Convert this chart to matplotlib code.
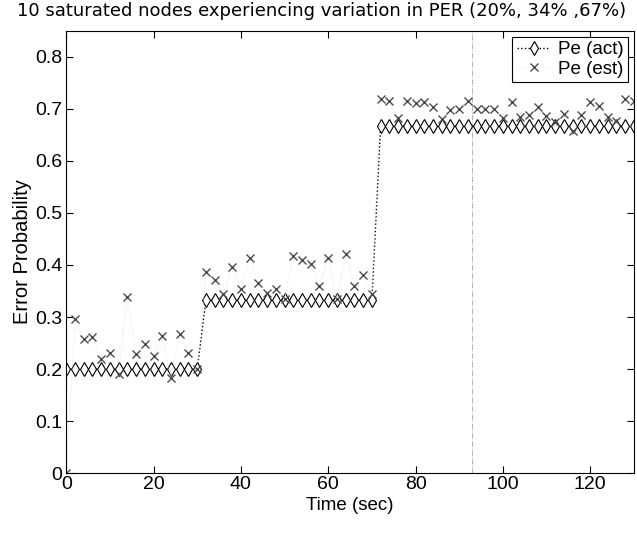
import matplotlib.pyplot as plt
import numpy as np

plt.rcParams['font.family'] = ['Liberation Sans', 'DejaVu Sans']

t = np.arange(0, 131, 2)

# actual error probability (step changes at 30 s and 70 s)
pe_act = [0.2] * 16 + [0.333] * 20 + [0.667] * 30

# estimated error probability
pe_est = [0.0, 0.297, 0.258, 0.262, 0.22, 0.23, 0.191, 0.338, 0.229, 0.248,
          0.225, 0.264, 0.183, 0.268, 0.23, 0.2,
          0.387, 0.371, 0.344, 0.396, 0.353, 0.414, 0.366, 0.347, 0.353, 0.334,
          0.417, 0.409, 0.401, 0.36, 0.413, 0.335, 0.421, 0.36, 0.381, 0.345,
          0.72, 0.715, 0.683, 0.716, 0.711, 0.713, 0.704, 0.68, 0.697, 0.70,
          0.716, 0.70, 0.70, 0.699, 0.683, 0.714, 0.684, 0.688, 0.703, 0.686,
          0.675, 0.69, 0.658, 0.689, 0.713, 0.705, 0.684, 0.677, 0.72, 0.716]

x_ticks = [0, 20, 40, 60, 80, 100, 120]
y_ticks = [0, 0.1, 0.2, 0.3, 0.4, 0.5, 0.6, 0.7, 0.8]

fig = plt.figure(figsize=(6.37, 5.52), dpi=100)
ax = fig.add_axes([0.104, 0.143, 0.891, 0.801])

ax.axvline(93, color='0.65', linestyle='-.', linewidth=0.6, zorder=0)

ax.plot(t, pe_act, linestyle=':', color='black', linewidth=1.0,
        marker='d', markersize=7, markerfacecolor='white',
        markeredgecolor='black', markeredgewidth=0.8, label='Pe (act)')
ax.plot(t, pe_est, linestyle=':', color='0.85', linewidth=0.5,
        marker='x', markersize=6, markeredgecolor='0.3',
        markeredgewidth=1.0, label='Pe (est)')

ax.set_xlim(0, 130)
ax.set_ylim(0, 0.85)
ax.set_xticks(x_ticks)
ax.set_yticks(y_ticks)
ax.set_xticklabels([str(v) for v in x_ticks])
ax.set_yticklabels(['0', '0.1', '0.2', '0.3', '0.4', '0.5', '0.6', '0.7', '0.8'])
ax.tick_params(direction='in', top=True, right=True, labelsize=14, length=5)
ax.tick_params(axis='x', pad=2)
ax.tick_params(axis='y', pad=3)

ax.set_xlabel('Time (sec)', fontsize=13.5, labelpad=3)
ax.set_ylabel('Error Probability', fontsize=14.5, labelpad=2)
fig.text(0.505, 0.996,
         '10 saturated nodes experiencing variation in PER (20%, 34% ,67%)',
         fontsize=13, family='DejaVu Sans', ha='center', va='top')

leg = ax.legend(loc='upper right', fontsize=13.5, frameon=True, fancybox=False,
                framealpha=1, edgecolor='black', borderpad=0.25,
                handlelength=1.8, handletextpad=0.4, labelspacing=0.12,
                borderaxespad=0.3)
leg.get_frame().set_linewidth(0.8)

fig.savefig('out.png', dpi=100)
